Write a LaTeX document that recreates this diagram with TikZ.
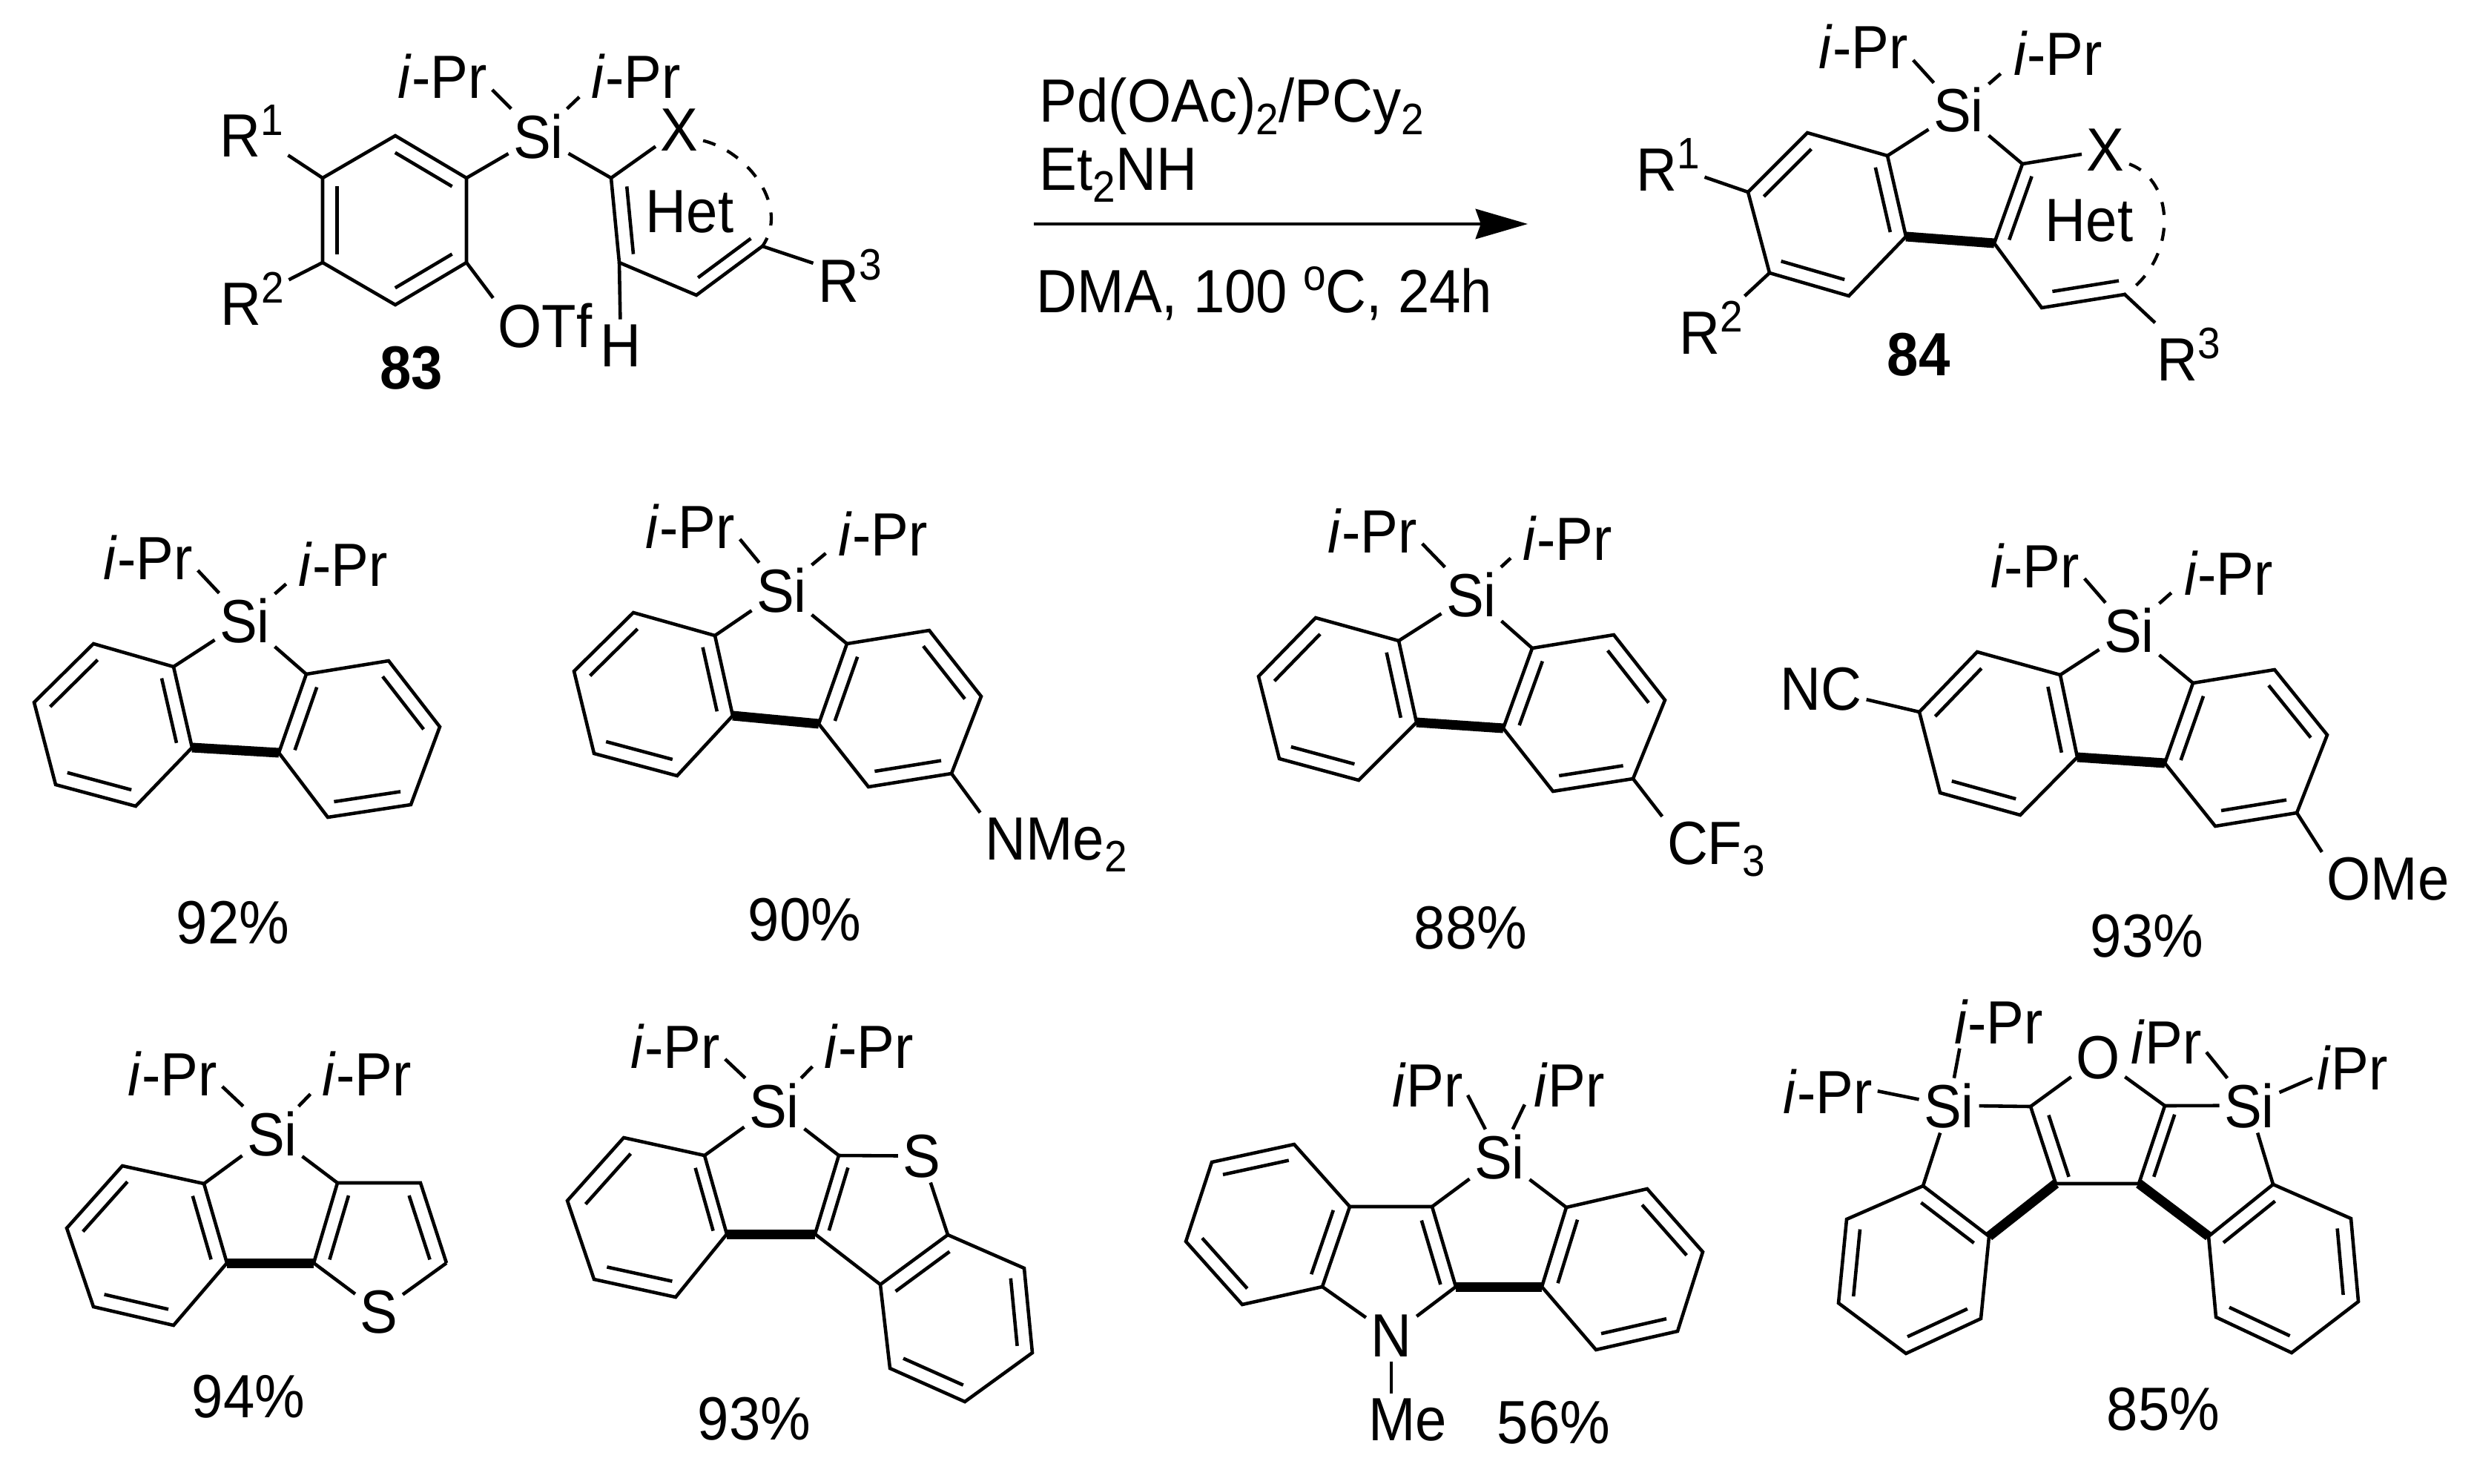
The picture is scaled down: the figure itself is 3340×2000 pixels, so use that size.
\documentclass[tikz,border=0pt]{standalone}
\usepackage{fontspec}
\setmainfont[FakeStretch=0.925]{Liberation Sans}
\usetikzlibrary{calc}
\usetikzlibrary{arrows.meta}

\newcommand{\supr}[1]{\raisebox{0.36em}{\fontsize{16.9}{16.9}\selectfont #1}}
\newcommand{\subr}[1]{\raisebox{-0.2em}{\fontsize{16.9}{16.9}\selectfont #1}}
\newcommand{\ipra}{\textit{i}-Pr}
\newcommand{\iprb}{\textit{i}Pr}
\newcommand{\inb}[3]{\draw[bond] ($(#1)!.2!(#3)$) -- ($(#2)!.2!(#3)$);}

\tikzset{
  lab/.style     = {anchor=base, inner sep=1.7pt, font=\fontsize{23.4}{26}\selectfont},
  bond/.style    = {line width=1.3pt, line join=miter},
  boldbond/.style= {line width=3.7pt},
  hetarc/.style  = {line width=1.2pt, dash pattern=on 5pt off 5pt},
  shortb/.style  = {shorten >=4pt},
  rxnarrow/.style= {line width=1.2pt, -{Stealth[length=20pt,width=11.5pt,inset=2pt]}}
}

\begin{document}
\begin{tikzpicture}[x=0.01cm, y=-0.01cm]
  \useasboundingbox (0,0) rectangle (3340,2000);

  \coordinate (m0a) at (533,183);
  \coordinate (m0b) at (629,240);
  \coordinate (m0c) at (629,354);
  \coordinate (m0d) at (533,411);
  \coordinate (m0e) at (435,354);
  \coordinate (m0f) at (435,240);
  \coordinate (m0x) at (532,297);
  \coordinate (m0g) at (824,240);
  \coordinate (m0h) at (835,354);
  \coordinate (m0i) at (939,398);
  \coordinate (m0j) at (1028,332);
  \coordinate (m0y) at (930,297);
  \coordinate (m0z) at (950,280);
  \node[lab] (si0)  at (726,213)  {Si};
  \node[lab] (ipl0) at (597,133)  {\ipra};
  \node[lab] (ipr0) at (858,133)  {\ipra};
  \node[lab] (xa0)  at (916,203)  {X};
  \node[lab] (het0) at (930,314)  {Het};
  \node[lab] (ra0)  at (339,212)  {R\supr{1}};
  \node[lab] (rb0)  at (340,438)  {R\supr{2}};
  \node[lab] (rc0)  at (1146,407) {R\supr{3}};
  \node[lab] (otf)  at (735,468)  {OTf};
  \node[lab] (hyd)  at (837,494)  {H};
  \node[lab] (cpd83) at (555,524) {\textbf{83}};
  \draw[bond] (m0a) -- (m0b) -- (m0c) -- (m0d) -- (m0e) -- (m0f) -- cycle;
  \inb{m0a}{m0b}{m0x}
  \inb{m0c}{m0d}{m0x}
  \inb{m0e}{m0f}{m0x}
  \draw[bond] (m0f) -- (ra0);
  \draw[bond] (m0e) -- (rb0);
  \draw[bond] (m0b) -- (si0);
  \draw[bond] (m0c) -- (otf.north west);
  \draw[bond] (si0) -- (m0g);
  \draw[bond] (m0g) -- (xa0);
  \draw[bond] (m0g) -- (m0h) -- (m0i) -- (m0j);
  \inb{m0g}{m0h}{m0y}
  \inb{m0i}{m0j}{m0z}
  \draw[bond] (m0h) -- (hyd);
  \draw[bond] (m0j) -- (rc0);
  \draw[bond] (si0) -- (ipl0.-15);
  \draw[bond, shortb] (si0) -- (ipr0.195);
  \draw[hetarc] (xa0.-25) .. controls (1010,205) and (1065,280) .. (m0j);

  \node[lab, anchor=base west] (cond1) at (1395,165) {Pd(OAc)\subr{2}/PCy\subr{2}};
  \node[lab, anchor=base west] (cond2) at (1395,256) {Et\subr{2}NH};
  \node[lab, anchor=base west] (cond3) at (1391,421) {DMA, 100 \supr{o}C, 24h};
  \coordinate (arrl) at (1394,302);
  \coordinate (arrr) at (2060,302);
  \draw[rxnarrow] (arrl) -- (arrr);

  \coordinate (mpa) at (2437,179);
  \coordinate (mpb) at (2545,210);
  \coordinate (mpc) at (2570,319);
  \coordinate (mpd) at (2493,399);
  \coordinate (mpe) at (2386,368);
  \coordinate (mpf) at (2357,259);
  \coordinate (mpx) at (2464,289);
  \coordinate (mpg) at (2727,221);
  \coordinate (mph) at (2689,328);
  \coordinate (mpi) at (2753,415);
  \coordinate (mpj) at (2865,397);
  \coordinate (mpy) at (2790,305);
  \coordinate (mpz) at (2825,305);
  \node[lab] (sip)  at (2641,178) {Si};
  \node[lab] (iplp) at (2513,93)  {\ipra};
  \node[lab] (iprp) at (2775,102) {\ipra};
  \node[lab] (xap)  at (2839,231) {X};
  \node[lab] (hetp) at (2817,325) {Het};
  \node[lab] (rap)  at (2249,257) {R\supr{1}};
  \node[lab] (rbp)  at (2307,477) {R\supr{2}};
  \node[lab] (rcp)  at (2951,513) {R\supr{3}};
  \node[lab] (cpd84) at (2587,506) {\textbf{84}};
  \draw[bond] (mpa) -- (mpb) -- (mpc) -- (mpd) -- (mpe) -- (mpf) -- cycle;
  \inb{mpa}{mpf}{mpx}
  \inb{mpb}{mpc}{mpx}
  \inb{mpd}{mpe}{mpx}
  \draw[boldbond] (mpc) -- (mph);
  \draw[bond] (mpb) -- (sip);
  \draw[bond] (sip) -- (mpg);
  \draw[bond] (mpg) -- (xap);
  \draw[bond] (mpg) -- (mph) -- (mpi) -- (mpj);
  \inb{mpg}{mph}{mpy}
  \inb{mpi}{mpj}{mpz}
  \draw[bond] (mpf) -- (rap);
  \draw[bond] (mpe) -- (rbp);
  \draw[bond] (mpj) -- (rcp);
  \draw[bond] (sip) -- (iplp.-15);
  \draw[bond, shortb] (sip) -- (iprp.195);
  \draw[hetarc] (xap.-30) .. controls (2935,245) and (2935,350) .. (mpj);

  \coordinate (m1a) at (126,868);
  \coordinate (m1b) at (234,899);
  \coordinate (m1c) at (259,1008);
  \coordinate (m1d) at (183,1087);
  \coordinate (m1e) at (75,1058);
  \coordinate (m1f) at (46,947);
  \coordinate (m1x) at (154,977);
  \coordinate (m1g) at (413,909);
  \coordinate (m1h) at (524,891);
  \coordinate (m1i) at (593,980);
  \coordinate (m1j) at (554,1085);
  \coordinate (m1k) at (442,1102);
  \coordinate (m1l) at (376,1015);
  \coordinate (m1y) at (484,997);
  \node[lab] (si1)  at (330,866) {Si};
  \node[lab] (ipl1) at (200,781) {\ipra};
  \node[lab] (ipr1) at (463,790) {\ipra};
  \node[lab] (yld1) at (314,1272) {92\%};
  \draw[bond] (m1a) -- (m1b) -- (m1c) -- (m1d) -- (m1e) -- (m1f) -- cycle;
  \draw[bond] (m1g) -- (m1h) -- (m1i) -- (m1j) -- (m1k) -- (m1l) -- cycle;
  \inb{m1a}{m1f}{m1x}
  \inb{m1b}{m1c}{m1x}
  \inb{m1d}{m1e}{m1x}
  \inb{m1g}{m1l}{m1y}
  \inb{m1h}{m1i}{m1y}
  \inb{m1j}{m1k}{m1y}
  \draw[boldbond] (m1c) -- (m1l);
  \draw[bond] (m1b) -- (si1);
  \draw[bond] (m1g) -- (si1);
  \draw[bond] (si1) -- (ipl1.-15);
  \draw[bond, shortb] (si1) -- (ipr1.195);

  \coordinate (m2a) at (854,826);
  \coordinate (m2b) at (964,857);
  \coordinate (m2c) at (988,965);
  \coordinate (m2d) at (913,1046);
  \coordinate (m2e) at (801,1016);
  \coordinate (m2f) at (774,905);
  \coordinate (m2x) at (882,936);
  \coordinate (m2g) at (1142,868);
  \coordinate (m2h) at (1253,850);
  \coordinate (m2i) at (1323,939);
  \coordinate (m2j) at (1283,1043);
  \coordinate (m2k) at (1171,1061);
  \coordinate (m2l) at (1104,976);
  \coordinate (m2y) at (1213,956);
  \node[lab] (si2)  at (1054,825) {Si};
  \node[lab] (ipl2) at (931,739)  {\ipra};
  \node[lab] (ipr2) at (1191,749) {\ipra};
  \node[lab] (nme)  at (1424,1159) {NMe\subr{2}};
  \node[lab] (yld2) at (1085,1268) {90\%};
  \draw[bond] (m2a) -- (m2b) -- (m2c) -- (m2d) -- (m2e) -- (m2f) -- cycle;
  \draw[bond] (m2g) -- (m2h) -- (m2i) -- (m2j) -- (m2k) -- (m2l) -- cycle;
  \inb{m2a}{m2f}{m2x}
  \inb{m2b}{m2c}{m2x}
  \inb{m2d}{m2e}{m2x}
  \inb{m2g}{m2l}{m2y}
  \inb{m2h}{m2i}{m2y}
  \inb{m2j}{m2k}{m2y}
  \draw[boldbond] (m2c) -- (m2l);
  \draw[bond] (m2b) -- (si2);
  \draw[bond] (m2g) -- (si2);
  \draw[bond] (m2j) -- (nme.north west);
  \draw[bond] (si2) -- (ipl2.-15);
  \draw[bond, shortb] (si2) -- (ipr2.195);

  \coordinate (m3a) at (1774,833);
  \coordinate (m3b) at (1886,864);
  \coordinate (m3c) at (1910,974);
  \coordinate (m3d) at (1832,1052);
  \coordinate (m3e) at (1725,1023);
  \coordinate (m3f) at (1697,912);
  \coordinate (m3x) at (1804,943);
  \coordinate (m3g) at (2066,874);
  \coordinate (m3h) at (2176,856);
  \coordinate (m3i) at (2245,944);
  \coordinate (m3j) at (2202,1050);
  \coordinate (m3k) at (2094,1067);
  \coordinate (m3l) at (2027,982);
  \coordinate (m3y) at (2135,962);
  \node[lab] (si3)  at (1984,831) {Si};
  \node[lab] (ipl3) at (1851,745) {\ipra};
  \node[lab] (ipr3) at (2114,755) {\ipra};
  \node[lab] (cft)  at (2314,1165) {CF\subr{3}};
  \node[lab] (yld3) at (1983,1279) {88\%};
  \draw[bond] (m3a) -- (m3b) -- (m3c) -- (m3d) -- (m3e) -- (m3f) -- cycle;
  \draw[bond] (m3g) -- (m3h) -- (m3i) -- (m3j) -- (m3k) -- (m3l) -- cycle;
  \inb{m3a}{m3f}{m3x}
  \inb{m3b}{m3c}{m3x}
  \inb{m3d}{m3e}{m3x}
  \inb{m3g}{m3l}{m3y}
  \inb{m3h}{m3i}{m3y}
  \inb{m3j}{m3k}{m3y}
  \draw[boldbond] (m3c) -- (m3l);
  \draw[bond] (m3b) -- (si3);
  \draw[bond] (m3g) -- (si3);
  \draw[bond] (m3j) -- (cft.north west);
  \draw[bond] (si3) -- (ipl3.-15);
  \draw[bond, shortb] (si3) -- (ipr3.195);

  \coordinate (m4a) at (2666,879);
  \coordinate (m4b) at (2778,910);
  \coordinate (m4c) at (2801,1021);
  \coordinate (m4d) at (2724,1099);
  \coordinate (m4e) at (2616,1069);
  \coordinate (m4f) at (2588,960);
  \coordinate (m4x) at (2695,990);
  \coordinate (m4g) at (2957,921);
  \coordinate (m4h) at (3067,903);
  \coordinate (m4i) at (3138,991);
  \coordinate (m4j) at (3097,1096);
  \coordinate (m4k) at (2987,1114);
  \coordinate (m4l) at (2919,1029);
  \coordinate (m4y) at (3027,1009);
  \node[lab] (si4)  at (2871,879) {Si};
  \node[lab] (ipl4) at (2744,792) {\ipra};
  \node[lab] (ipr4) at (3005,802) {\ipra};
  \node[lab] (nc)   at (2455,957) {NC};
  \node[lab] (ome)  at (3220,1213) {OMe};
  \node[lab] (yld4) at (2895,1290) {93\%};
  \draw[bond] (m4a) -- (m4b) -- (m4c) -- (m4d) -- (m4e) -- (m4f) -- cycle;
  \draw[bond] (m4g) -- (m4h) -- (m4i) -- (m4j) -- (m4k) -- (m4l) -- cycle;
  \inb{m4a}{m4f}{m4x}
  \inb{m4b}{m4c}{m4x}
  \inb{m4d}{m4e}{m4x}
  \inb{m4g}{m4l}{m4y}
  \inb{m4h}{m4i}{m4y}
  \inb{m4j}{m4k}{m4y}
  \draw[boldbond] (m4c) -- (m4l);
  \draw[bond] (m4b) -- (si4);
  \draw[bond] (m4g) -- (si4);
  \draw[bond] (m4f) -- (nc);
  \draw[bond] (m4j) -- (ome.north west);
  \draw[bond] (si4) -- (ipl4.-15);
  \draw[bond, shortb] (si4) -- (ipr4.195);

  \coordinate (m5a) at (165,1572);
  \coordinate (m5b) at (275,1596);
  \coordinate (m5c) at (306,1703);
  \coordinate (m5d) at (234,1787);
  \coordinate (m5e) at (126,1762);
  \coordinate (m5f) at (90,1656);
  \coordinate (m5x) at (199,1679);
  \coordinate (m5g) at (455,1595);
  \coordinate (m5h) at (567,1595);
  \coordinate (m5i) at (602,1703);
  \coordinate (m5j) at (423,1703);
  \coordinate (m5y) at (530,1680);
  \coordinate (m5z) at (490,1680);
  \node[lab] (si5)  at (367,1558) {Si};
  \node[lab] (ipl5) at (233,1477) {\ipra};
  \node[lab] (ipr5) at (495,1477) {\ipra};
  \node[lab] (sul5) at (511,1797) {S};
  \node[lab] (yld5) at (335,1911) {94\%};
  \draw[bond] (m5a) -- (m5b) -- (m5c) -- (m5d) -- (m5e) -- (m5f) -- cycle;
  \inb{m5a}{m5f}{m5x}
  \inb{m5b}{m5c}{m5x}
  \inb{m5d}{m5e}{m5x}
  \draw[boldbond] (m5c) -- (m5j);
  \draw[bond] (m5j) -- (m5g) -- (m5h) -- (m5i);
  \inb{m5g}{m5j}{m5y}
  \inb{m5h}{m5i}{m5z}
  \draw[bond] (m5i) -- (sul5);
  \draw[bond] (m5j) -- (sul5);
  \draw[bond] (m5b) -- (si5);
  \draw[bond] (m5g) -- (si5);
  \draw[bond] (si5) -- (ipl5.-15);
  \draw[bond, shortb] (si5) -- (ipr5.195);

  \coordinate (m6a) at (841,1534);
  \coordinate (m6b) at (950,1558);
  \coordinate (m6c) at (980,1664);
  \coordinate (m6d) at (911,1749);
  \coordinate (m6e) at (801,1725);
  \coordinate (m6f) at (765,1619);
  \coordinate (m6x) at (888,1642);
  \coordinate (m6g) at (1131,1558);
  \coordinate (m6h) at (1099,1664);
  \coordinate (m6y) at (1193,1640);
  \coordinate (m6m) at (1187,1732);
  \coordinate (m6n) at (1278,1665);
  \coordinate (m6o) at (1381,1710);
  \coordinate (m6p) at (1392,1824);
  \coordinate (m6q) at (1301,1890);
  \coordinate (m6r) at (1200,1845);
  \coordinate (m6z) at (1290,1778);
  \node[lab] (si6)  at (1044,1520) {Si};
  \node[lab] (ipl6) at (911,1440)  {\ipra};
  \node[lab] (ipr6) at (1172,1440) {\ipra};
  \node[lab] (sul6) at (1243,1587) {S};
  \node[lab] (yld6) at (1017,1941) {93\%};
  \draw[bond] (m6a) -- (m6b) -- (m6c) -- (m6d) -- (m6e) -- (m6f) -- cycle;
  \draw[bond] (m6m) -- (m6n) -- (m6o) -- (m6p) -- (m6q) -- (m6r) -- cycle;
  \inb{m6a}{m6f}{m6x}
  \inb{m6b}{m6c}{m6x}
  \inb{m6d}{m6e}{m6x}
  \inb{m6m}{m6n}{m6z}
  \inb{m6o}{m6p}{m6z}
  \inb{m6q}{m6r}{m6z}
  \draw[boldbond] (m6c) -- (m6h);
  \draw[bond] (m6g) -- (m6h) -- (m6m);
  \inb{m6g}{m6h}{m6y}
  \draw[bond] (m6b) -- (si6);
  \draw[bond] (m6g) -- (si6);
  \draw[bond] (m6g) -- (sul6);
  \draw[bond] (m6n) -- (sul6);
  \draw[bond] (si6) -- (ipl6.-15);
  \draw[bond, shortb] (si6) -- (ipr6.195);

  \coordinate (m7a) at (1745,1543);
  \coordinate (m7b) at (1820,1627);
  \coordinate (m7c) at (1783,1735);
  \coordinate (m7d) at (1675,1759);
  \coordinate (m7e) at (1599,1674);
  \coordinate (m7f) at (1634,1567);
  \coordinate (m7x) at (1709,1651);
  \coordinate (m7m) at (1931,1627);
  \coordinate (m7n) at (1963,1735);
  \coordinate (m7z) at (1860,1720);
  \coordinate (m7g) at (2112,1628);
  \coordinate (m7h) at (2221,1603);
  \coordinate (m7i) at (2296,1688);
  \coordinate (m7j) at (2262,1795);
  \coordinate (m7k) at (2152,1820);
  \coordinate (m7l) at (2079,1735);
  \coordinate (m7y) at (2187,1711);
  \node[lab] (si7)  at (2022,1589) {Si};
  \node[lab] (ipl7) at (1925,1492) {\iprb};
  \node[lab] (ipr7) at (2116,1492) {\iprb};
  \node[lab] (nit)  at (1876,1829) {N};
  \node[lab] (met)  at (1898,1942) {Me};
  \node[lab] (yld7) at (2095,1946) {56\%};
  \draw[bond] (m7a) -- (m7b) -- (m7c) -- (m7d) -- (m7e) -- (m7f) -- cycle;
  \draw[bond] (m7g) -- (m7h) -- (m7i) -- (m7j) -- (m7k) -- (m7l) -- cycle;
  \inb{m7a}{m7f}{m7x}
  \inb{m7b}{m7c}{m7x}
  \inb{m7d}{m7e}{m7x}
  \inb{m7g}{m7l}{m7y}
  \inb{m7h}{m7i}{m7y}
  \inb{m7j}{m7k}{m7y}
  \draw[bond] (m7b) -- (m7m) -- (m7n);
  \inb{m7m}{m7n}{m7z}
  \draw[boldbond] (m7n) -- (m7l);
  \draw[bond] (m7c) -- (nit);
  \draw[bond] (m7n) -- (nit);
  \draw[bond] (nit) -- (nit |- met.north);
  \draw[bond] (m7m) -- (si7);
  \draw[bond] (m7g) -- (si7);
  \draw[bond] (si7) -- (ipl7.-15);
  \draw[bond, shortb] (si7) -- (ipr7.195);

  \coordinate (m8a) at (2738,1492);
  \coordinate (m8b) at (2919,1491);
  \coordinate (m8c) at (2772,1596);
  \coordinate (m8d) at (2884,1596);
  \coordinate (m8x) at (2860,1550);
  \coordinate (m8y) at (2985,1550);
  \coordinate (m8e) at (2593,1599);
  \coordinate (m8f) at (2682,1667);
  \coordinate (m8g) at (2671,1778);
  \coordinate (m8h) at (2570,1825);
  \coordinate (m8i) at (2479,1757);
  \coordinate (m8j) at (2490,1644);
  \coordinate (m8z) at (2580,1712);
  \coordinate (m8k) at (3065,1597);
  \coordinate (m8l) at (2978,1667);
  \coordinate (m8m) at (2988,1776);
  \coordinate (m8n) at (3090,1824);
  \coordinate (m8o) at (3180,1755);
  \coordinate (m8p) at (3170,1643);
  \coordinate (m8w) at (3078,1710);
  \node[lab] (sil8) at (2628,1520) {Si};
  \node[lab] (sir8) at (3033,1520) {Si};
  \node[lab] (oxy)  at (2829,1454) {O};
  \node[lab] (ipt8) at (2695,1407) {\ipra};
  \node[lab] (ipl8) at (2465,1501) {\ipra};
  \node[lab] (ipu8) at (2921,1434) {\iprb};
  \node[lab] (ipr8) at (3172,1469) {\iprb};
  \node[lab] (yld8) at (2917,1928) {85\%};
  \draw[bond] (m8e) -- (m8f) -- (m8g) -- (m8h) -- (m8i) -- (m8j) -- cycle;
  \draw[bond] (m8k) -- (m8l) -- (m8m) -- (m8n) -- (m8o) -- (m8p) -- cycle;
  \inb{m8e}{m8f}{m8z}
  \inb{m8g}{m8h}{m8z}
  \inb{m8i}{m8j}{m8z}
  \inb{m8k}{m8l}{m8w}
  \inb{m8m}{m8n}{m8w}
  \inb{m8o}{m8p}{m8w}
  \draw[bond] (m8a) -- (m8c) -- (m8d) -- (m8b);
  \inb{m8a}{m8c}{m8x}
  \inb{m8b}{m8d}{m8y}
  \draw[boldbond] (m8c) -- (m8f);
  \draw[boldbond] (m8d) -- (m8l);
  \draw[bond] (m8a) -- (oxy);
  \draw[bond] (m8b) -- (oxy);
  \draw[bond] (m8a) -- (sil8);
  \draw[bond] (m8b) -- (sir8);
  \draw[bond] (m8e) -- (sil8);
  \draw[bond] (m8k) -- (sir8);
  \draw[bond] (sil8) -- ([xshift=4pt]ipt8.south west);
  \draw[bond] (sil8) -- (ipl8.east);
  \draw[bond] (sir8) -- (ipu8.-15);
  \draw[bond] (sir8) -- (ipr8.195);
\end{tikzpicture}
\end{document}
